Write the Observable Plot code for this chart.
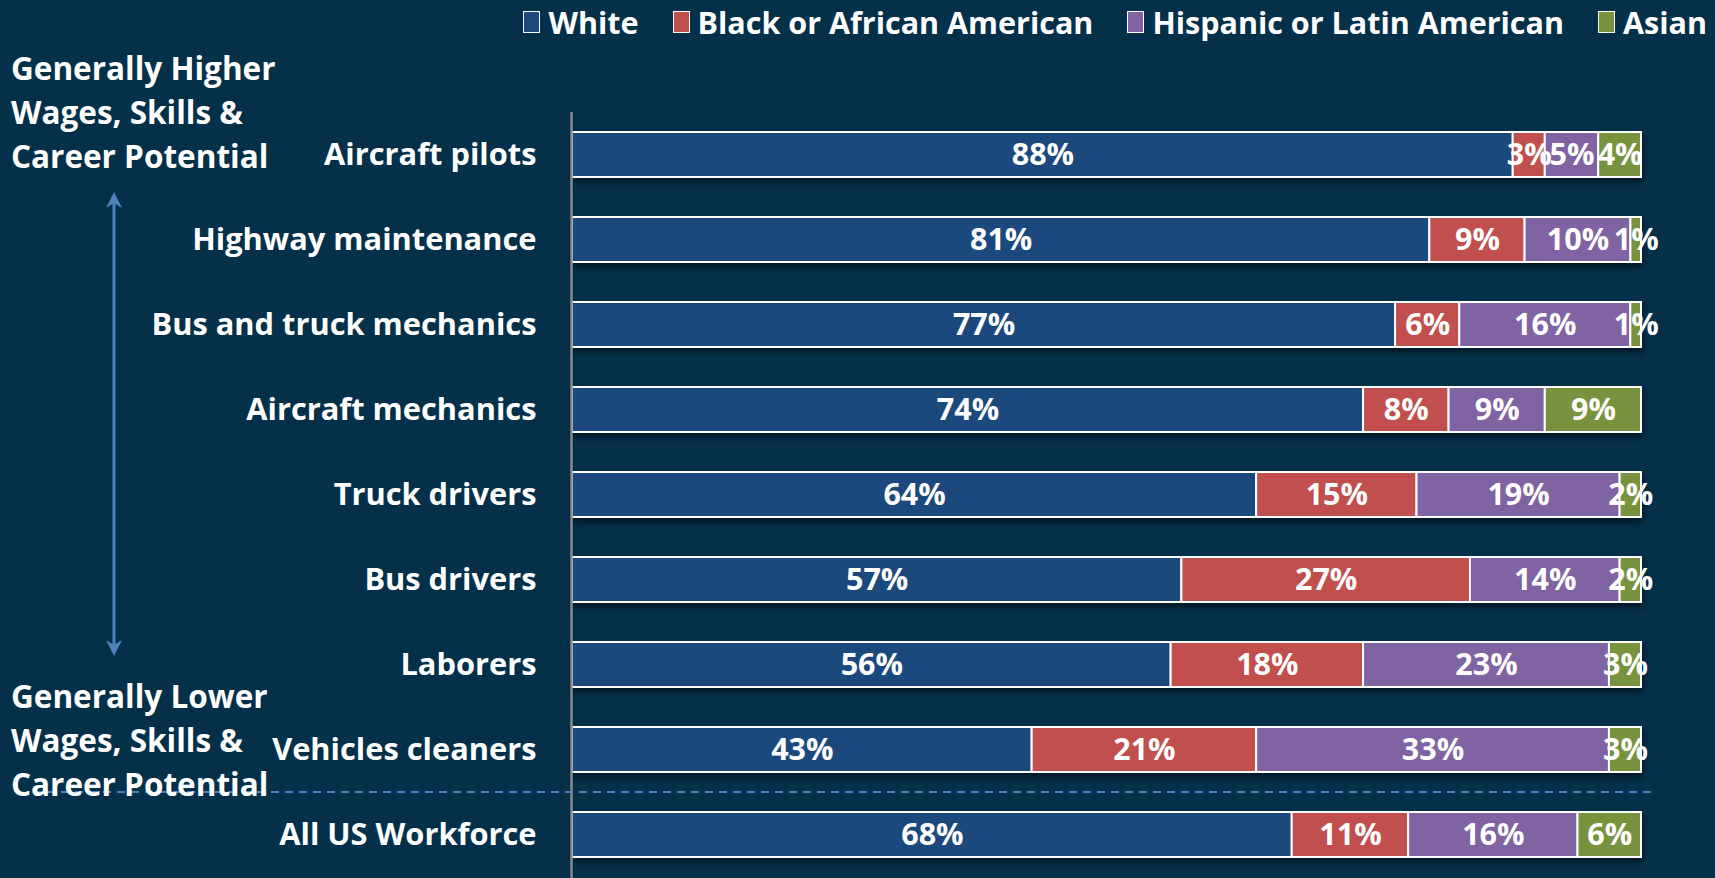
<!DOCTYPE html>
<html>
<head>
<meta charset="utf-8">
<script src="https://cdn.jsdelivr.net/npm/d3@7"></script>
<script src="https://cdn.jsdelivr.net/npm/@observablehq/plot@0.6"></script>
<style>
  html, body { margin: 0; padding: 0; background: #04304A; overflow: hidden; }
  body { width: 1715px; height: 878px; position: relative; font-family: "Open Sans", Lato, sans-serif; color: #fff; }
  #chart { position: absolute; left: 0; top: 0; }
  .legend { position: absolute; top: 1px; right: 8px; display: flex; align-items: center; font-weight: bold; font-size: 30.5px; }
  .legend .item { display: flex; align-items: center; margin-left: 34px; }
  .legend .sw { width: 17px; height: 22px; border: 1.5px solid #fff; margin-right: 8px; box-sizing: border-box; }
  .note { position: absolute; left: 11px; font-weight: bold; font-size: 31.5px; line-height: 44px; white-space: nowrap; }
</style>
</head>
<body>
<div id="chart"></div>
<div class="legend" id="legend"></div>
<div class="note" id="noteHigh" style="top:46px">Generally Higher<br>Wages, Skills &amp;<br>Career Potential</div>
<div class="note" id="noteLow" style="top:674px">Generally Lower<br>Wages, Skills &amp;<br>Career Potential</div>
<script>
const categories = ["Aircraft pilots", "Highway maintenance", "Bus and truck mechanics", "Aircraft mechanics", "Truck drivers", "Bus drivers", "Laborers", "Vehicles cleaners", "All US Workforce"];
const groups = ["White", "Black or African American", "Hispanic or Latin American", "Asian"];
const white    = [88, 81, 77, 74, 64, 57, 56, 43, 68];
const black    = [3, 9, 6, 8, 15, 27, 18, 21, 11];
const hispanic = [5, 10, 16, 9, 19, 14, 23, 33, 16];
const asian    = [4, 1, 1, 9, 2, 2, 3, 3, 6];
const colors = ["#1F497D", "#C0504D", "#8064A2", "#77933C"];

const series = [white, black, hispanic, asian];
const data = [];
categories.forEach((c, i) => {
  groups.forEach((g, j) => data.push({category: c, group: g, value: series[j][i]}));
});

const chart = Plot.plot({
  width: 1715,
  height: 878,
  marginLeft: 572,
  marginRight: 74,
  marginTop: 112,
  marginBottom: 0,
  style: {background: "transparent", color: "#fff", fontFamily: "'Open Sans', Lato, sans-serif", overflow: "visible"},
  x: {domain: [0, 1], axis: null},
  y: {domain: categories, paddingInner: 0.47, paddingOuter: 0.235, label: null, axis: null},
  color: {domain: groups, range: colors},
  marks: [
    Plot.axisY({tickSize: 0, tickPadding: 36, fontSize: 30.8, fontWeight: "bold", fill: "#fff", label: null}),
    Plot.barX(data, Plot.stackX({offset: "normalize", x: "value", y: "category", fill: "group", stroke: "#fff", strokeWidth: 2})),
    Plot.text(data, Plot.stackX({offset: "normalize", x: "value", y: "category", z: "group", text: d => d.value + "%", fill: "#fff", fontSize: 30.5, fontWeight: "bold"})),
    Plot.ruleX([0], {stroke: "#8a8a8a", strokeWidth: 2.5, dx: -1})
  ]
});
document.getElementById("chart").appendChild(chart);

// drop shadow on bars
const svg = d3.select(chart);
const defs = svg.insert("defs", ":first-child");
const f = defs.append("filter").attr("id", "shadow").attr("x", "-5%").attr("y", "-30%").attr("width", "110%").attr("height", "180%");
f.append("feDropShadow").attr("dx", 1).attr("dy", 4).attr("stdDeviation", 3).attr("flood-color", "#000").attr("flood-opacity", 0.55);
svg.select('g[aria-label="bar"]').attr("filter", "url(#shadow)");

// dashed separator between the occupations and the all-workforce bar
const y = chart.scale("y");
const sepY = (y.apply("Vehicles cleaners") + y.bandwidth + y.apply("All US Workforce")) / 2;
svg.append("line").attr("x1", 33).attr("x2", 1654).attr("y1", sepY).attr("y2", sepY)
  .attr("stroke", "#4F81BD").attr("stroke-width", 2).attr("stroke-dasharray", "8,6");

// double-headed arrow
const ax = 114, ay1 = 192, ay2 = 656, hw = 8, hl = 16;
const ag = svg.append("g").attr("fill", "#4F81BD").attr("stroke", "#4F81BD");
ag.append("line").attr("x1", ax).attr("x2", ax).attr("y1", ay1 + 4).attr("y2", ay2 - 4).attr("stroke-width", 3);
ag.append("path").attr("d", `M${ax},${ay1} L${ax - hw},${ay1 + hl} L${ax},${ay1 + hl - 5} L${ax + hw},${ay1 + hl} Z`).attr("stroke", "none");
ag.append("path").attr("d", `M${ax},${ay2} L${ax - hw},${ay2 - hl} L${ax},${ay2 - hl + 5} L${ax + hw},${ay2 - hl} Z`).attr("stroke", "none");

// legend
const legend = document.getElementById("legend");
groups.forEach((g, i) => {
  const it = document.createElement("div");
  it.className = "item";
  const sw = document.createElement("div");
  sw.className = "sw";
  sw.style.background = colors[i];
  const t = document.createElement("span");
  t.textContent = g;
  it.appendChild(sw); it.appendChild(t);
  legend.appendChild(it);
});
</script>
</body>
</html>
